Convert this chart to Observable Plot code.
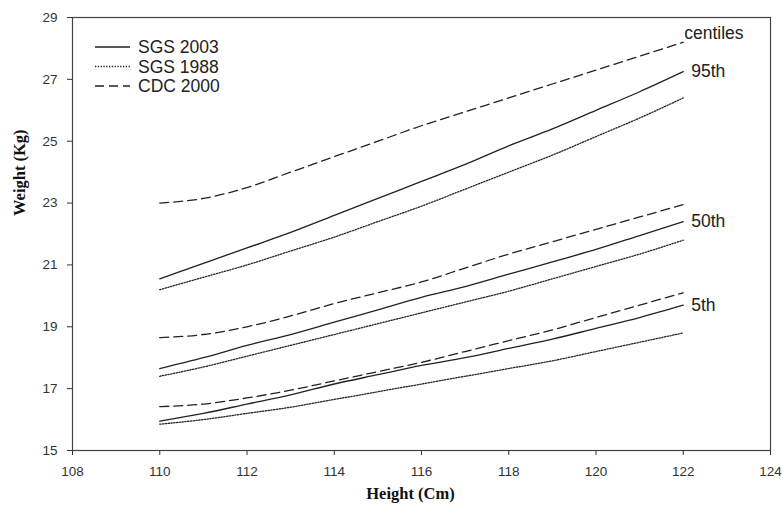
<!DOCTYPE html>
<html><head><meta charset="utf-8">
<script src="https://cdn.jsdelivr.net/npm/d3@7"></script>
<script src="https://cdn.jsdelivr.net/npm/@observablehq/plot@0.6"></script>
<style>body{margin:0;background:#fff}</style>
</head><body><div id="chart"></div>
<script>
const heights = [110,111,112,113,114,115,116,117,118,119,120,121,122];
const xTicks = [108,110,112,114,116,118,120,122,124];
const yTicks = [15,17,19,21,23,25,27,29];
const sources = ["SGS 2003","SGS 1988","CDC 2000"];
const centiles = ["95th","50th","5th"];

const sgs2003_p95 = [20.55,21.05,21.55,22.05,22.6,23.15,23.7,24.25,24.85,25.4,26.0,26.6,27.25];
const sgs1988_p95 = [20.2,20.6,21.0,21.45,21.9,22.4,22.9,23.45,24.0,24.55,25.15,25.75,26.4];
const cdc2000_p95 = [23.0,23.15,23.5,24.0,24.5,25.0,25.5,25.95,26.4,26.85,27.3,27.75,28.2];

const sgs2003_p50 = [17.65,18.0,18.4,18.75,19.15,19.55,19.95,20.3,20.7,21.1,21.5,21.95,22.4];
const sgs1988_p50 = [17.4,17.7,18.05,18.4,18.75,19.1,19.45,19.8,20.15,20.55,20.95,21.35,21.8];
const cdc2000_p50 = [18.65,18.75,19.0,19.35,19.75,20.1,20.45,20.9,21.35,21.75,22.15,22.55,22.95];

const sgs2003_p5 = [15.95,16.2,16.5,16.8,17.15,17.45,17.75,18.0,18.3,18.6,18.95,19.3,19.7];
const sgs1988_p5 = [15.85,16.0,16.2,16.4,16.65,16.9,17.15,17.4,17.65,17.9,18.2,18.5,18.8];
const cdc2000_p5 = [16.42,16.5,16.7,16.95,17.25,17.55,17.85,18.2,18.55,18.9,19.3,19.7,20.1];

const table = {
  "SGS 2003": {"95th": sgs2003_p95, "50th": sgs2003_p50, "5th": sgs2003_p5},
  "SGS 1988": {"95th": sgs1988_p95, "50th": sgs1988_p50, "5th": sgs1988_p5},
  "CDC 2000": {"95th": cdc2000_p95, "50th": cdc2000_p50, "5th": cdc2000_p5}
};
const data = [];
for (const s of sources) for (const c of centiles)
  table[s][c].forEach((v, i) => data.push({source: s, centile: c, height: heights[i], weight: v}));

const dash = {"SGS 2003": null, "SGS 1988": "1.3,1.5", "CDC 2000": "9,5"};
const ink = "#222";
const sans = "Liberation Sans, Arial, sans-serif";
const serif = "Liberation Serif, Times New Roman, serif";

const last = heights.length - 1;
const centileLabels = centiles.map(c => ({label: c, height: heights[last], weight: table["SGS 2003"][c][last]}));
const headLabel = [{label: "centiles", height: heights[last], weight: cdc2000_p95[last]}];

const lineMarks = sources.map(s => Plot.line(data.filter(d => d.source === s), {
  x: "height", y: "weight", z: "centile", stroke: ink, strokeWidth: 1.3,
  strokeDasharray: dash[s], curve: "monotone-x"
}));

const chart = Plot.plot({
  width: 783, height: 512,
  marginLeft: 72, marginRight: 13, marginTop: 17, marginBottom: 62,
  style: {fontFamily: sans, background: "#fff"},
  x: {domain: [108, 124]},
  y: {domain: [15, 29]},
  marks: [
    Plot.frame({stroke: "#444", strokeWidth: 1.2}),
    Plot.axisX({ticks: xTicks, tickSize: 5, tickPadding: 11, fontSize: 13.5, fill: "#333", label: null, stroke: "#333"}),
    Plot.axisY({ticks: yTicks, tickSize: 5, tickPadding: 10, fontSize: 13.5, fill: "#333", label: null, stroke: "#333"}),
    ...lineMarks,
    Plot.text(centileLabels, {x: "height", y: "weight", text: "label", dx: 8, textAnchor: "start", fontSize: 17.5, fill: ink}),
    Plot.text(headLabel, {x: "height", y: "weight", text: "label", dx: 1, dy: -9, textAnchor: "start", fontSize: 17.5, fill: ink}),
    Plot.text(["Weight (Kg)"], {frameAnchor: "left", dx: -53, dy: -18, rotate: -90, fontSize: 16.5, fontWeight: "bold", fontFamily: serif, fill: "#111"}),
    Plot.text(["Height (Cm)"], {frameAnchor: "bottom", dx: -11, dy: 48, fontSize: 16.5, fontWeight: "bold", fontFamily: serif, fill: "#111"})
  ]
});

// legend
const svg = d3.select(chart);
const lg = svg.append("g").attr("transform", "translate(95,47)");
sources.forEach((s, i) => {
  const g = lg.append("g").attr("transform", `translate(0,${i * 19.5})`);
  g.append("line").attr("x1", 0).attr("x2", 35).attr("y1", 0).attr("y2", 0)
    .attr("stroke", ink).attr("stroke-width", 1.3)
    .attr("stroke-dasharray", dash[s]);
  g.append("text").attr("x", 43).attr("y", 0).attr("dy", "0.35em")
    .attr("text-anchor", "start")
    .attr("font-size", 17.5).attr("font-family", sans).attr("fill", ink).text(s);
});

document.getElementById("chart").append(chart);
</script>
</body></html>
